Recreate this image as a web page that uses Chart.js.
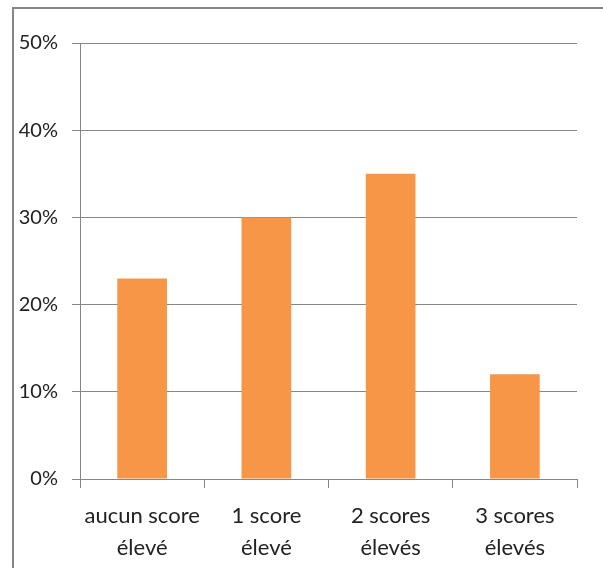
<!DOCTYPE html>
<html>
<head>
<meta charset="utf-8">
<script src="https://cdn.jsdelivr.net/npm/chart.js@4.4.0/dist/chart.umd.min.js"></script>
<style>
  html, body { margin: 0; padding: 0; background: #fff; }
  #wrap { width: 603px; height: 568px; position: relative; }
</style>
</head>
<body>
<div id="wrap"><canvas id="barChart"></canvas></div>
<script>
var categories = [["aucun score", "élevé"], ["1 score", "élevé"], ["2 scores", "élevés"], ["3 scores", "élevés"]];
var values = [23, 30, 35, 12];
var yTicks = [0, 10, 20, 30, 40, 50];

// outer frame of the chart object
var framePlugin = {
  id: 'frame',
  beforeDraw: function (chart) {
    var c = chart.ctx;
    c.save();
    c.fillStyle = '#fff';
    c.fillRect(0, 0, chart.width, chart.height);
    c.strokeStyle = '#868686';
    c.lineWidth = 2;
    c.strokeRect(13, 8, 700, 700);
    c.restore();
  }
};

var ctx = document.getElementById("barChart").getContext('2d');
var myBarChart = new Chart(ctx, {
  type: 'bar',
  data: {
    labels: categories,
    datasets: [{
      data: values,
      backgroundColor: "#F79646",
      borderWidth: 0,
      barPercentage: 0.4,
      categoryPercentage: 1
    }]
  },
  options: {
    responsive: true,
    maintainAspectRatio: false,
    animation: false,
    layout: { padding: { left: 0, right: 26, top: 43, bottom: 0 } },
    plugins: { legend: { display: false }, tooltip: { enabled: false } },
    scales: {
      x: {
        offset: true,
        afterFit: function (scale) { scale.height = 89; },
        grid: { offset: true, drawOnChartArea: false, drawTicks: true, tickLength: 9, color: '#868686' },
        border: { display: true, color: '#868686', width: 1 },
        ticks: { color: '#222', padding: 12, font: { family: 'Lato', size: 22, lineHeight: '32px' }, maxRotation: 0 }
      },
      y: {
        min: 0,
        max: 50,
        afterFit: function (scale) { scale.width = 80; },
        afterBuildTicks: function (scale) { scale.ticks = yTicks.map(function (v) { return { value: v }; }); },
        grid: { color: '#868686', tickLength: 8, lineWidth: 1 },
        border: { display: true, color: '#868686', width: 1 },
        ticks: {
          color: '#222',
          padding: 14,
          font: { family: 'Lato', size: 20 },
          callback: function (v) { return v + '%'; }
        }
      }
    }
  },
  plugins: [framePlugin]
});
</script>
</body>
</html>
